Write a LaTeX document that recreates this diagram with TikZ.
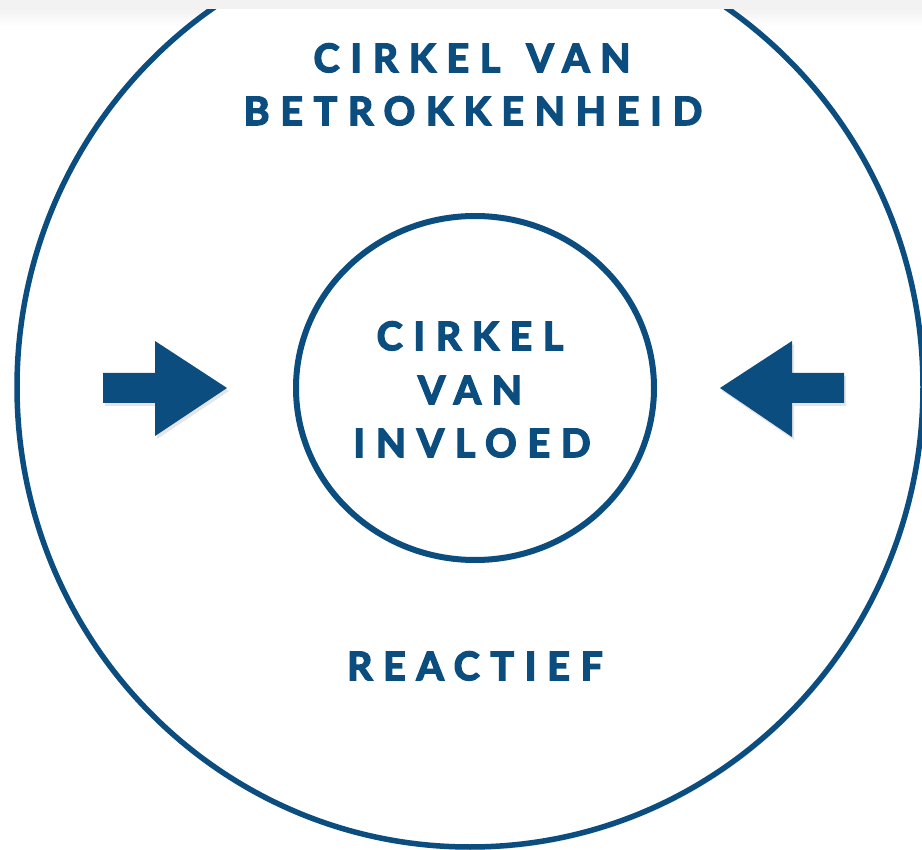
\documentclass[tikz,border=0pt]{standalone}
\usepackage{fontspec}
\newfontfamily\lbl{Lato}[LetterSpace=28, BoldFeatures={FakeBold=4}]
\usetikzlibrary{shapes.geometric,shadows}
\definecolor{navy}{RGB}{11,77,127}
\definecolor{band}{RGB}{242,242,242}
\begin{document}
\begin{tikzpicture}[x=1pt,y=-1pt,
  txt/.style={text=navy, font=\lbl\fontsize{39}{39}\selectfont\bfseries, inner sep=0pt, anchor=base},
  ring/.style={ellipse, draw=navy, fill=white, inner sep=0pt,
    drop shadow={opacity=0.18, shadow xshift=1.5pt, shadow yshift=-3pt}},
  arrowshape/.style={fill=navy, drop shadow={opacity=0.2, shadow xshift=2pt, shadow yshift=-3pt}}]
\useasboundingbox (0,0) rectangle (922,850);
\fill[white] (0,0) rectangle (922,850);
\shade[top color=band, bottom color=white] (0,9) rectangle (922,26);
% outer circle
\node[ring, line width=5.5pt, minimum width=906pt, minimum height=920pt] (outer) at (470,387) {};
% inner circle
\node[ring, line width=6pt, minimum width=358pt, minimum height=344pt] (inner) at (475,388) {};
% arrows
\fill[arrowshape] (103,373) -- (155,373) -- (155,341) -- (227,388) -- (155,436) -- (155,403) -- (103,403) -- cycle;
\fill[arrowshape] (844,373) -- (792,373) -- (792,341) -- (720,388) -- (792,437) -- (792,403) -- (844,403) -- cycle;
% texts
\node[txt] (t1) at (472,72) {CIRKEL \hspace{6pt}VAN};
\node[txt] (t2) at (473,125) {BETROKKENHEID};
\node[txt] (c1) at (470,350) {CIRKEL};
\node[txt] (c2) at (470,404) {VAN};
\node[txt] (c3) at (472,457) {INVLOED};
\node[txt] (r) at (475,680) {REACTIEF};
% top band
\fill[band] (0,0) rectangle (922,9);
\end{tikzpicture}
\end{document}
